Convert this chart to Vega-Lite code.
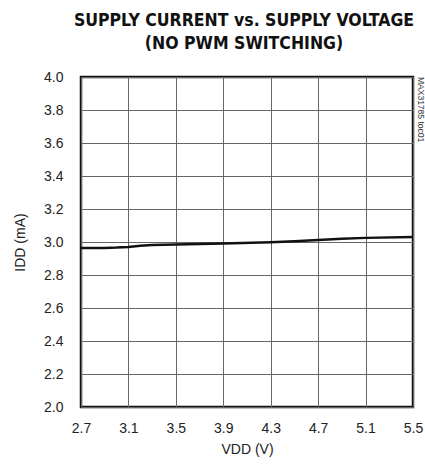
{
  "$schema": "https://vega.github.io/schema/vega-lite/v6.json",
  "width": 332,
  "height": 330,
  "autosize": {"type": "none"},
  "padding": {"left": 81, "top": 77, "right": 12, "bottom": 59},
  "background": "white",
  "title": {
    "text": ["SUPPLY CURRENT vs. SUPPLY VOLTAGE", "(NO PWM SWITCHING)"],
    "font": "DejaVu Sans Condensed",
    "fontWeight": "bold",
    "fontSize": 17.5,
    "lineHeight": 23,
    "color": "#111",
    "offset": 18,
    "anchor": "middle",
    "dx": -3
  },
  "config": {
    "view": {"stroke": "#111", "strokeWidth": 2.5},
    "axis": {
      "labelFont": "Liberation Sans",
      "titleFont": "Liberation Sans",
      "labelFontSize": 14,
      "titleFontSize": 14,
      "titleFontWeight": "normal",
      "labelColor": "#222",
      "titleColor": "#222",
      "labelOverlap": false,
      "labelFlush": false,
      "labelBound": false,
      "domain": false,
      "ticks": false,
      "tickSize": 0,
      "grid": true,
      "gridColor": "#666",
      "gridWidth": 1,
      "gridOpacity": 1
    }
  },
  "data": {
    "values": [
      {"v": 2.7, "i": 2.964},
      {"v": 2.9, "i": 2.964},
      {"v": 3.0, "i": 2.966},
      {"v": 3.1, "i": 2.970},
      {"v": 3.2, "i": 2.977},
      {"v": 3.3, "i": 2.982},
      {"v": 3.5, "i": 2.985},
      {"v": 3.9, "i": 2.991},
      {"v": 4.3, "i": 2.998},
      {"v": 4.5, "i": 3.004},
      {"v": 4.7, "i": 3.012},
      {"v": 4.9, "i": 3.020},
      {"v": 5.1, "i": 3.025},
      {"v": 5.5, "i": 3.030}
    ]
  },
  "encoding": {
    "x": {
      "field": "v",
      "type": "quantitative",
      "scale": {"domain": [2.7, 5.5], "nice": false, "zero": false},
      "axis": {
        "values": [2.7, 3.1, 3.5, 3.9, 4.3, 4.7, 5.1, 5.5],
        "format": ".1f",
        "labelPadding": 14,
        "title": "VDD (V)",
        "titlePadding": 7
      }
    },
    "y": {
      "field": "i",
      "type": "quantitative",
      "scale": {"domain": [2.0, 4.0], "nice": false, "zero": false},
      "axis": {
        "values": [2.0, 2.2, 2.4, 2.6, 2.8, 3.0, 3.2, 3.4, 3.6, 3.8, 4.0],
        "format": ".1f",
        "labelPadding": 18,
        "title": "IDD (mA)",
        "titlePadding": 16
      }
    }
  },
  "layer": [
    {
      "mark": {"type": "line", "color": "#111", "strokeWidth": 2.5, "clip": true}
    },
    {
      "data": {"values": [{"label": "MAX31785 toc01", "v": 5.5, "i": 4.0}]},
      "mark": {
        "type": "text",
        "angle": 90,
        "align": "left",
        "baseline": "bottom",
        "font": "Liberation Sans",
        "fontSize": 8.5,
        "color": "#333",
        "dy": -3
      },
      "encoding": {
        "text": {"field": "label"}
      }
    }
  ]
}
